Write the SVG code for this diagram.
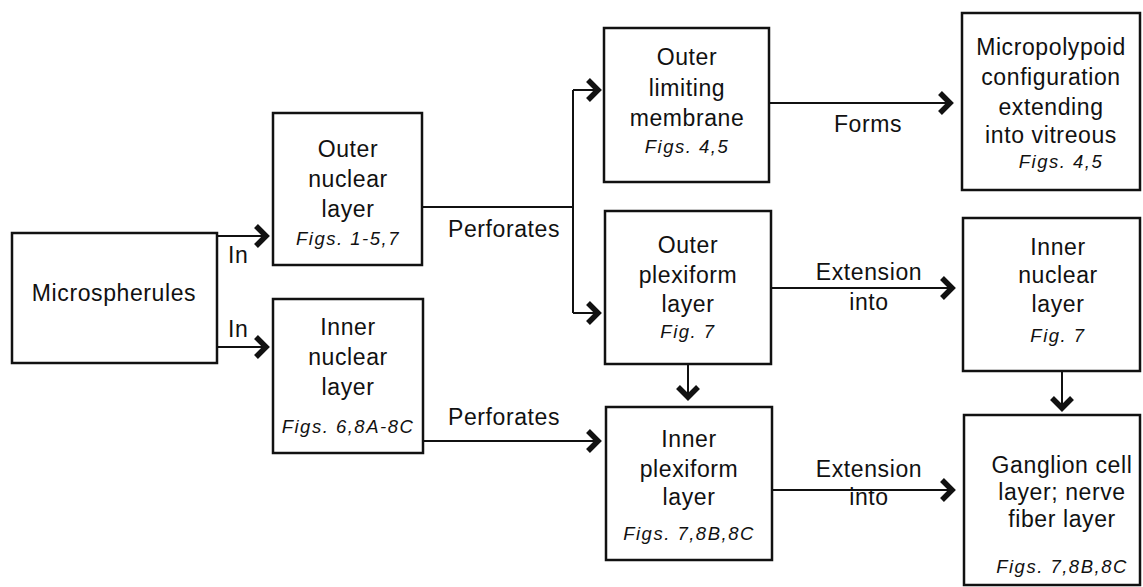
<svg xmlns="http://www.w3.org/2000/svg" width="1143" height="587" viewBox="0 0 1143 587">
<style>
.box{fill:#fff;stroke:#111;stroke-width:2.5}
.t{font-family:"Liberation Sans",Arial,sans-serif;font-size:23px;letter-spacing:0.6px;fill:#111;text-anchor:middle}
.f{font-family:"Liberation Sans",Arial,sans-serif;font-size:18.5px;font-style:italic;letter-spacing:1.5px;fill:#111;text-anchor:middle}
.lbl{font-family:"Liberation Sans",Arial,sans-serif;font-size:23px;letter-spacing:0.6px;fill:#111}
.c{fill:none;stroke:#111;stroke-width:2}
</style>
<defs>
<marker id="chev" markerUnits="userSpaceOnUse" viewBox="0 0 18 28" refX="14" refY="14" markerWidth="18" markerHeight="28" orient="auto">
<path d="M4,4 L14,14 L4,24" fill="none" stroke="#111" stroke-width="5.5" stroke-linejoin="miter"/>
</marker>
</defs>
<rect x="0" y="0" width="1143" height="587" fill="#fff"/>

<g id="connectors">
<path class="c" d="M217,236 H266" marker-end="url(#chev)"/>
<path class="c" d="M217,347 H266" marker-end="url(#chev)"/>
<path class="c" d="M422,207 H573"/>
<path class="c" d="M573,90 V313"/>
<path class="c" d="M573,90 H598" marker-end="url(#chev)"/>
<path class="c" d="M573,313 H598" marker-end="url(#chev)"/>
<path class="c" d="M423,441 H598" marker-end="url(#chev)"/>
<path class="c" d="M769,103 H950" marker-end="url(#chev)"/>
<path class="c" d="M771,288 H952" marker-end="url(#chev)"/>
<path class="c" d="M772,490 H952" marker-end="url(#chev)"/>
<path class="c" d="M688,364 V397" marker-end="url(#chev)"/>
<path class="c" d="M1062,371 V408" marker-end="url(#chev)"/>
<text class="lbl" x="228" y="263">In</text>
<text class="lbl" x="228" y="337">In</text>
<text class="lbl" x="448" y="237">Perforates</text>
<text class="lbl" x="448" y="425">Perforates</text>
<text class="t" x="868" y="132">Forms</text>
<text class="t" x="869" y="280">Extension</text>
<text class="t" x="869" y="310">into</text>
<text class="t" x="869" y="477">Extension</text>
<text class="t" x="869" y="505">into</text>
</g>

<g id="microspherules">
<rect class="box" x="12" y="233" width="205" height="130"/>
<text class="t" x="114" y="301">Microspherules</text>
</g>

<g id="outer-nuclear-layer">
<rect class="box" x="273" y="113" width="149" height="152"/>
<text class="t" x="348" y="157">Outer</text>
<text class="t" x="348" y="187">nuclear</text>
<text class="t" x="348" y="217">layer</text>
<text class="f" x="348" y="245">Figs. 1-5,7</text>
</g>

<g id="inner-nuclear-layer-left">
<rect class="box" x="273" y="299" width="150" height="154"/>
<text class="t" x="348" y="335">Inner</text>
<text class="t" x="348" y="365">nuclear</text>
<text class="t" x="348" y="395">layer</text>
<text class="f" x="348" y="433">Figs. 6,8A-8C</text>
</g>

<g id="outer-limiting-membrane">
<rect class="box" x="604" y="28" width="165" height="154"/>
<text class="t" x="687" y="65">Outer</text>
<text class="t" x="687" y="96">limiting</text>
<text class="t" x="687" y="126">membrane</text>
<text class="f" x="687" y="153">Figs. 4,5</text>
</g>

<g id="outer-plexiform-layer">
<rect class="box" x="605" y="211" width="166" height="153"/>
<text class="t" x="688" y="253">Outer</text>
<text class="t" x="688" y="283">plexiform</text>
<text class="t" x="688" y="312">layer</text>
<text class="f" x="688" y="338">Fig. 7</text>
</g>

<g id="inner-plexiform-layer">
<rect class="box" x="606" y="407" width="166" height="153"/>
<text class="t" x="689" y="447">Inner</text>
<text class="t" x="689" y="477">plexiform</text>
<text class="t" x="689" y="505">layer</text>
<text class="f" x="689" y="540">Figs. 7,8B,8C</text>
</g>

<g id="micropolypoid">
<rect class="box" x="962" y="13" width="178" height="177"/>
<text class="t" x="1051" y="55">Micropolypoid</text>
<text class="t" x="1051" y="85">configuration</text>
<text class="t" x="1051" y="115">extending</text>
<text class="t" x="1051" y="143">into vitreous</text>
<text class="f" x="1061" y="168">Figs. 4,5</text>
</g>

<g id="inner-nuclear-layer-right">
<rect class="box" x="963" y="218" width="177" height="153"/>
<text class="t" x="1058" y="255">Inner</text>
<text class="t" x="1058" y="283">nuclear</text>
<text class="t" x="1058" y="312">layer</text>
<text class="f" x="1058" y="342">Fig. 7</text>
</g>

<g id="ganglion-cell-layer">
<rect class="box" x="964" y="415" width="176" height="170"/>
<text class="t" x="1062" y="473">Ganglion cell</text>
<text class="t" x="1062" y="500">layer; nerve</text>
<text class="t" x="1062" y="527">fiber layer</text>
<text class="f" x="1062" y="573">Figs. 7,8B,8C</text>
</g>
</svg>
